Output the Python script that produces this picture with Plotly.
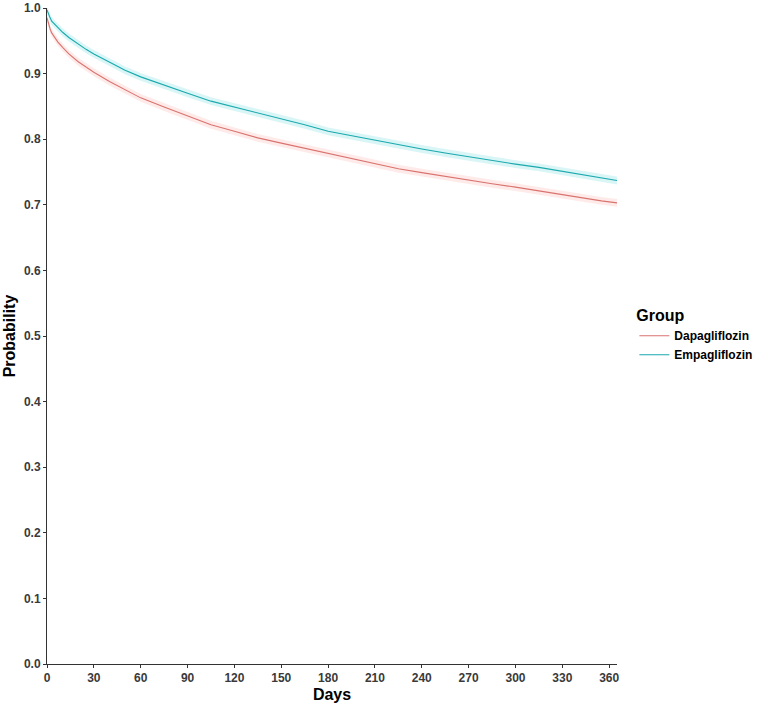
import plotly.graph_objects as go

days = [0, 1, 2, 3, 5, 7, 10, 14, 20, 25, 30, 40, 50, 60, 75, 90, 105, 120, 135, 150,
        165, 180, 195, 210, 225, 240, 255, 270, 285, 300, 315, 330, 345, 355, 365]
dapa = [0.985, 0.975, 0.968, 0.962, 0.955, 0.948, 0.940, 0.930, 0.918, 0.910, 0.902,
        0.888, 0.875, 0.863, 0.849, 0.835, 0.822, 0.812, 0.802, 0.794, 0.786, 0.778,
        0.770, 0.763, 0.755, 0.749, 0.743, 0.737, 0.732, 0.727, 0.721, 0.715, 0.709,
        0.706, 0.703]
empa = [0.997, 0.990, 0.985, 0.980, 0.975, 0.970, 0.963, 0.955, 0.945, 0.937, 0.930,
        0.917, 0.905, 0.895, 0.882, 0.870, 0.858, 0.849, 0.840, 0.832, 0.822, 0.812,
        0.805, 0.798, 0.791, 0.785, 0.779, 0.773, 0.767, 0.762, 0.757, 0.751, 0.745,
        0.740, 0.737]
band = 0.006
groups = ["Dapagliflozin", "Empagliflozin"]
x_ticks = [0, 30, 60, 90, 120, 150, 180, 210, 240, 270, 300, 330, 360]
y_ticks = [0.0, 0.1, 0.2, 0.3, 0.4, 0.5, 0.6, 0.7, 0.8, 0.9, 1.0]

line_colors = ["#D9736F", "#1AA9AD"]
fill_colors = ["rgba(248,118,109,0.15)", "rgba(0,191,196,0.15)"]

FONT = "Liberation Sans, Arial"
fig = go.Figure()
for name, vals, lc, fc in zip(groups, [dapa, empa], line_colors, fill_colors):
    fig.add_trace(go.Scatter(x=days, y=[v - band for v in vals], mode="lines",
                             line=dict(width=0), showlegend=False, hoverinfo="skip"))
    fig.add_trace(go.Scatter(x=days, y=[v + band for v in vals], mode="lines",
                             line=dict(width=0), fill="tonexty", fillcolor=fc,
                             showlegend=False, hoverinfo="skip"))
    fig.add_trace(go.Scatter(x=days, y=vals, mode="lines", name=f"<b>{name}</b>",
                             line=dict(color=lc, width=1.1)))

axis_common = dict(showgrid=False, zeroline=False, showline=True, linecolor="#333333",
                   linewidth=1, ticks="outside", ticklen=3, tickcolor="#333333",
                   automargin=False,
                   tickfont=dict(family=FONT, size=12, color="#3a3a3a"))
fig.update_xaxes(range=[0, 365], tickvals=x_ticks, ticktext=[f"<b>{t}</b>" for t in x_ticks],
                 title=dict(text="<b>Days</b>", font=dict(family=FONT, size=16, color="#000"), standoff=4),
                 **axis_common)
fig.update_yaxes(range=[0, 1.0], tickvals=y_ticks, ticktext=[f"<b>{t:.1f}</b>" for t in y_ticks],
                 title=dict(text="<b>Probability</b>", font=dict(family=FONT, size=16, color="#000"), standoff=4),
                 **axis_common)
fig.update_layout(
    width=757, height=707,
    margin=dict(l=47, r=140, t=8, b=43),
    plot_bgcolor="white", paper_bgcolor="white",
    legend=dict(title=dict(text="<b>Group</b>", font=dict(family=FONT, size=16, color="#000")),
                xref="container", yref="container",
                x=0.838, y=0.575, xanchor="left", yanchor="top", traceorder="normal",
                font=dict(family=FONT, size=12, color="#000"),
                tracegroupgap=0),
)
fig.write_html("out.html")
